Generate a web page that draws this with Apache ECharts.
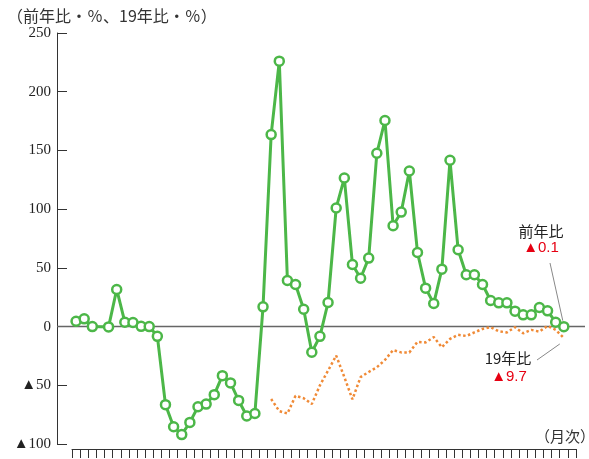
<!DOCTYPE html>
<html><head><meta charset="utf-8">
<script src="https://cdn.jsdelivr.net/npm/echarts@6/dist/echarts.min.js"></script>
<style>html,body{margin:0;padding:0;background:#fff}#c{width:589px;height:459px}</style>
</head><body><div id="c"></div>
<script>
// 月次カテゴリ（ラベル非表示）
const categories = [];
for (let i = 0; i < 62; i++) { categories.push('m' + (i + 1)); }
const yTickLabels = ['▲100', '▲50', '0', '50', '100', '150', '200', '250'];
const yoy = [4.5, 6.6, 0, null, -0.3, 31.6, 3.7, 3.5, 0.2, 0,
  -8.3, -66.5, -85.3, -92, -81.6, -68.3, -66, -58, -41.8, -48,
  -62.9, -76.2, -74, 16.8, 163.5, 226, 39.2, 35.8, 14.8, -21.9,
  -8.3, 20.5, 101, 126.5, 52.9, 41.2, 58.3, 147.6, 175.5, 85.9,
  97.5, 132.5, 63.1, 32.7, 19.6, 48.9, 141.6, 65.4, 44.1, 44.1,
  35.8, 22.2, 20.2, 20.2, 13.1, 10, 10, 16.2, 13.4, 3.7, -0.1];
const vs19 = [null, null, null, null, null, null, null, null, null, null,
  null, null, null, null, null, null, null, null, null, null,
  null, null, null, null, -61.7, -72, -74, -59, -61, -66,
  -50, -37.5, -24.7, -43, -62, -43, -38.7, -34.7, -28.4, -20,
  -22, -22, -13, -13.5, -9, -17.6, -10.5, -7, -8, -5,
  -2, -0.5, -4, -5, -0.5, -5.7, -2.8, -4.3, 0.6, -2.8, -9.7];
const annYoy = ['前年比', '▲0.1'];
const ann19 = ['19年比', '▲9.7'];

const GREEN = '#4cb748', ORANGE = '#f08a36', RED = '#e60012';
const chart = echarts.init(document.getElementById('c'));
chart.setOption({
  animation: false,
  title: { text: '（前年比・％、19年比・％）', left: 2, top: 3,
    textStyle: { fontSize: 16, fontWeight: 'normal', color: '#333', fontFamily: 'Noto Sans CJK JP' } },
  grid: { left: 72, right: 13, top: 33, bottom: 15 },
  xAxis: {
    type: 'category', data: categories, boundaryGap: true, offset: 5,
    axisLine: { onZero: false, lineStyle: { color: '#333', width: 1 } },
    axisTick: { show: true, length: 9, interval: 0, lineStyle: { color: '#333' } },
    axisLabel: { show: false }, splitLine: { show: false }
  },
  yAxis: {
    type: 'value', min: -100, max: 250, interval: 50, offset: 15,
    axisLine: { show: true, lineStyle: { color: '#333', width: 1 } },
    axisTick: { show: true, inside: true, length: 10, lineStyle: { color: '#333' } },
    axisLabel: { margin: 6, fontSize: 15, color: '#222', fontFamily: 'Liberation Serif',
      formatter: v => yTickLabels[(v + 100) / 50] },
    splitLine: { show: false }
  },
  series: [
    { name: '19年比', type: 'line', data: vs19, symbol: 'none', z: 2,
      lineStyle: { color: ORANGE, width: 2.5, type: 'dotted' } },
    { name: '前年比', type: 'line', data: yoy, connectNulls: true, z: 3,
      symbol: 'circle', symbolSize: 9, showSymbol: true, showAllSymbol: true,
      itemStyle: { color: '#fff', borderColor: GREEN, borderWidth: 2.5 },
      lineStyle: { color: GREEN, width: 3 } }
  ]
});

const y0 = chart.convertToPixel({ yAxisIndex: 0 }, 0);
const pLast = chart.convertToPixel({ seriesIndex: 1 }, [yoy.length - 1, yoy[yoy.length - 1]]);
const pLast19 = chart.convertToPixel({ seriesIndex: 0 }, [vs19.length - 1, vs19[vs19.length - 1]]);
chart.setOption({
  graphic: [
    { type: 'line', z: 1, shape: { x1: 57, y1: y0, x2: 585, y2: y0 }, style: { stroke: '#666', lineWidth: 1.5 } },
    { type: 'text', x: 595, y: 436, style: { text: '（月次）', font: '15px "Noto Sans CJK JP"', fill: '#333', align: 'right', verticalAlign: 'middle' } },
    { type: 'text', x: 541, y: 231, style: { text: annYoy[0], font: '15px "Noto Sans CJK JP"', fill: '#222', align: 'center', verticalAlign: 'middle' } },
    { type: 'text', x: 541, y: 248, style: { text: annYoy[1], font: '15px "Liberation Sans Narrow", "Liberation Sans"', fill: RED, align: 'center', verticalAlign: 'middle' } },
    { type: 'line', shape: { x1: 550, y1: 263, x2: pLast[0] - 1, y2: pLast[1] - 6 }, style: { stroke: '#888', lineWidth: 1 } },
    { type: 'text', x: 508, y: 358, style: { text: ann19[0], font: '15px "Noto Sans CJK JP"', fill: '#222', align: 'center', verticalAlign: 'middle' } },
    { type: 'text', x: 509, y: 377, style: { text: ann19[1], font: '15px "Liberation Sans Narrow", "Liberation Sans"', fill: RED, align: 'center', verticalAlign: 'middle' } },
    { type: 'line', shape: { x1: 537, y1: 360, x2: pLast19[0] - 4, y2: pLast19[1] + 6 }, style: { stroke: '#888', lineWidth: 1 } }
  ]
});
</script>
</body></html>
